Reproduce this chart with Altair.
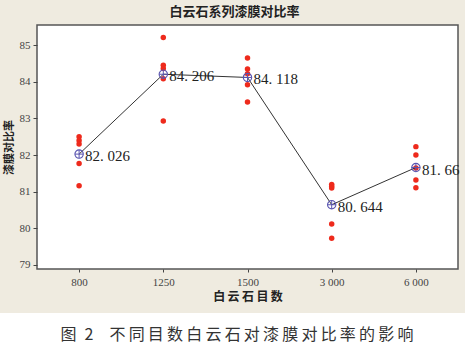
import altair as alt
import pandas as pd

mesh = ["800", "1250", "1500", "3 000", "6 000"]
vals_800 = [82.50, 82.40, 82.30, 81.77, 81.16]
vals_1250 = [85.21, 84.45, 84.36, 84.08, 82.93]
vals_1500 = [84.65, 84.35, 84.22, 83.92, 83.45]
vals_3000 = [81.20, 81.15, 81.10, 80.12, 79.73]
vals_6000 = [82.23, 82.00, 81.65, 81.32, 81.11]
means = [82.026, 84.206, 84.118, 80.644, 81.66]
mean_labels = ["82. 026", "84. 206", "84. 118", "80. 644", "81. 66"]

rows = []
for m, vs in zip(mesh, [vals_800, vals_1250, vals_1500, vals_3000, vals_6000]):
    for v in vs:
        rows.append({"mesh": m, "val": v})
pts = pd.DataFrame(rows)
mdf = pd.DataFrame({"mesh": mesh, "mean": means, "label": mean_labels})

W, H = 421, 244
BG = "#efebe0"
SERIF = "Liberation Serif"
CJK = "Noto Sans CJK SC"

xenc = alt.X("mesh:N", sort=mesh,
             scale=alt.Scale(type="point", padding=0.5),
             axis=alt.Axis(title="白\u2009云\u2009石\u2009目\u2009数", labelAngle=0, labelFont=SERIF,
                           labelFontSize=11, labelColor="#444", tickSize=3, tickColor="#444",
                           labelPadding=4, domain=False, grid=False, titleFont=CJK,
                           titleFontSize=12, titleFontWeight="bold", titleColor="#222",
                           titlePadding=4))
yscale = alt.Scale(domain=[78.89, 85.55], nice=False, zero=False)
yaxis = alt.Axis(title="漆膜对比率", values=[79, 80, 81, 82, 83, 84, 85], labelFont=SERIF,
                 labelFontSize=11, labelColor="#444", tickSize=4, tickColor="#444",
                 labelPadding=3, domain=False, grid=False, titleFont=CJK, titleFontSize=11,
                 titleFontWeight="bold", titleColor="#222", titlePadding=5)

base_bg = alt.Chart(pd.DataFrame({"a": [0]})).mark_rect(color="white").encode(
    x=alt.value(-40), x2=alt.value(W + 10), y=alt.value(288), y2=alt.value(H + 90))

dots = alt.Chart(pts).mark_circle(color="#ee2a1c", opacity=1, size=30).encode(
    x=xenc, y=alt.Y("val:Q", scale=yscale, axis=yaxis))

line = alt.Chart(mdf).mark_line(color="#333333", strokeWidth=1).encode(
    x=alt.X("mesh:N", sort=mesh), y=alt.Y("mean:Q", scale=yscale))

ring = alt.Chart(mdf).mark_point(shape="circle", filled=False, color="#5a55b0",
                                 size=70, strokeWidth=1.1, opacity=1).encode(
    x=alt.X("mesh:N", sort=mesh), y=alt.Y("mean:Q", scale=yscale))
cross = alt.Chart(mdf).mark_point(shape="M-1,0L1,0M0,-1L0,1", filled=False, color="#5a55b0",
                                  size=70, strokeWidth=1, opacity=1).encode(
    x=alt.X("mesh:N", sort=mesh), y=alt.Y("mean:Q", scale=yscale))

labels = alt.Chart(mdf).mark_text(align="left", baseline="middle", dx=6, dy=2,
                                  font=SERIF, fontSize=15, color="#222").encode(
    x=alt.X("mesh:N", sort=mesh), y=alt.Y("mean:Q", scale=yscale), text="label:N")

title = alt.Chart(pd.DataFrame({"t": ["白云石系列漆膜对比率"]})).mark_text(
    font=CJK, fontSize=13, fontWeight="bold", color="#222", align="center", baseline="middle").encode(
    x=alt.value(W / 2 - 13), y=alt.value(-13), text="t:N")

cap_text = "图\u20022\u3000" + "\u2009".join("不同目数白云石对漆膜对比率的影响")
caption = alt.Chart(pd.DataFrame({"t": [cap_text]})).mark_text(
    font=CJK, fontSize=16, color="#333", align="center", baseline="middle").encode(
    x=alt.value(200), y=alt.value(310), text="t:N")

chart = alt.layer(base_bg, dots, line, ring, cross, labels, title, caption).properties(
    width=W, height=H,
    autosize=alt.AutoSizeParams(type="none"),
    padding={"left": 37, "top": 25, "right": 7, "bottom": 83},
    background=BG,
).configure_view(fill="white", stroke="#555555", strokeWidth=1.5)

chart.save("out.html", embed_options={"renderer": "svg", "actions": False})
